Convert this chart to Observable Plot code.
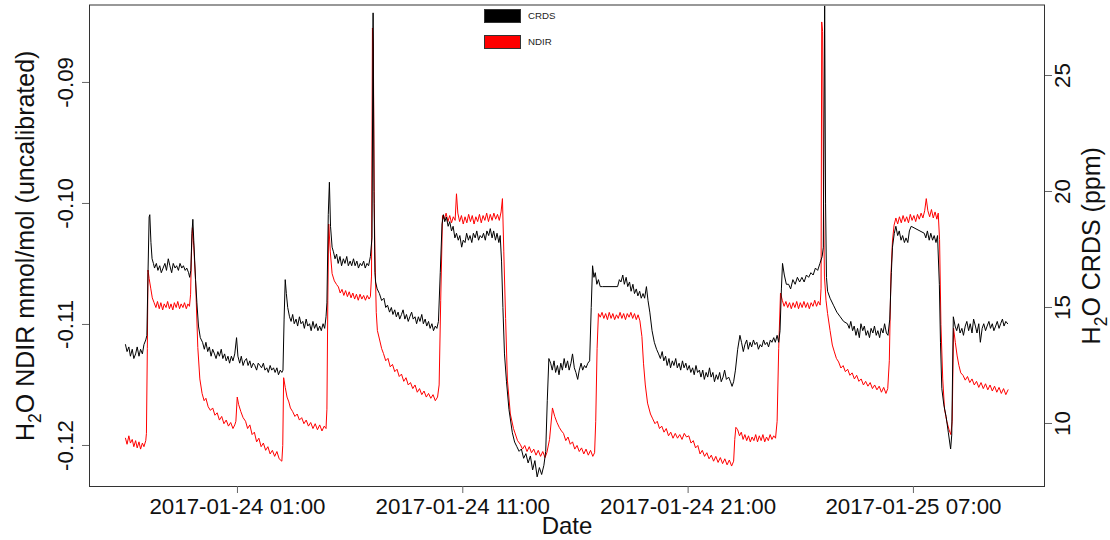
<!DOCTYPE html>
<html>
<head>
<meta charset="utf-8">
<script src="https://cdn.jsdelivr.net/npm/d3@7"></script>
<script src="https://cdn.jsdelivr.net/npm/@observablehq/plot@0.6"></script>
<style>
html,body{margin:0;padding:0;background:#fff;}
#chart{width:1110px;height:540px;}
</style>
</head>
<body>
<div id="chart"></div>
<script>
// ---------------- data (hours since 2017-01-24 00:00 UTC, value) ----------------
const baseLabel = "2017-01-24 00:00";

// CRDS H2O (ppm), right axis
const crds = [
[-3.97,13.4],[-3.9,13.1],[-3.82,13.3],[-3.75,12.9],[-3.67,13.2],[-3.6,12.8],[-3.52,13.0],[-3.45,13.3],[-3.37,12.9],[-3.3,13.2],[-3.22,13.0],[-3.15,13.4],[-3.07,13.6],
[-3.02,13.8],[-2.97,16.5],[-2.92,18.9],[-2.89,19.0],[-2.84,17.8],[-2.79,17.1],[-2.73,16.9],
[-2.68,16.7],[-2.6,16.9],[-2.53,16.6],[-2.45,16.8],[-2.38,16.5],[-2.3,16.7],[-2.22,16.9],[-2.15,16.6],[-2.07,17.1],[-2.0,16.8],[-1.92,16.5],[-1.85,16.9],[-1.77,16.7],[-1.7,16.8],[-1.62,16.6],[-1.55,16.9],[-1.47,16.7],[-1.4,16.8],[-1.32,16.6],[-1.25,16.7],[-1.17,16.5],[-1.12,16.3],
[-1.07,16.6],[-1.02,18.2],[-0.98,18.8],[-0.94,17.9],[-0.86,16.2],[-0.8,15.2],[-0.73,14.2],[-0.65,13.7],[-0.55,13.5],
[-0.47,13.2],[-0.4,13.5],[-0.32,13.1],[-0.25,13.3],[-0.17,12.9],[-0.1,13.2],[-0.02,13.0],[0.05,12.8],[0.13,13.1],[0.2,12.9],[0.28,13.2],[0.35,12.8],[0.43,13.0],[0.5,12.7],[0.58,12.9],[0.65,12.6],[0.73,12.9],[0.8,12.7],[0.88,13.0],[0.96,13.7],[1.02,12.9],[1.1,12.6],[1.17,12.9],[1.25,12.5],[1.32,12.7],[1.4,12.8],[1.47,12.5],[1.55,12.7],[1.62,12.4],[1.7,12.6],[1.77,12.5],[1.85,12.3],[1.92,12.6],[2.0,12.5],[2.07,12.4],[2.15,12.6],[2.22,12.3],[2.3,12.4],[2.37,12.2],[2.45,12.5],[2.52,12.3],[2.6,12.4],[2.67,12.2],[2.75,12.4],[2.82,12.1],[2.9,12.3],[2.97,12.2],
[3.02,12.3],[3.07,14.5],[3.12,16.2],[3.17,15.6],[3.23,15.0],[3.31,14.6],
[3.38,14.4],[3.45,14.7],[3.52,14.3],[3.6,14.5],[3.67,14.2],[3.75,14.6],[3.82,14.3],[3.9,14.4],[3.97,14.1],[4.05,14.5],[4.12,14.2],[4.2,14.3],[4.27,14.0],[4.35,14.4],[4.42,14.1],[4.5,14.3],[4.57,14.0],[4.65,14.2],[4.72,14.0],[4.8,14.3],[4.87,14.1],[4.93,14.6],
[4.97,15.2],[5.03,19.0],[5.08,20.4],[5.13,18.5],[5.2,17.6],[5.26,17.4],
[5.33,17.1],[5.4,17.3],[5.47,16.9],[5.55,17.2],[5.62,16.8],[5.7,17.1],[5.77,16.9],[5.85,17.2],[5.92,16.8],[6.0,17.0],[6.07,16.8],[6.15,17.1],[6.22,16.8],[6.3,17.0],[6.37,16.7],[6.45,16.9],[6.52,16.8],[6.6,17.0],[6.67,16.7],[6.75,16.9],[6.82,16.8],[6.9,17.2],
[6.97,18.0],[7.02,27.7],[7.06,20.0],[7.1,16.5],[7.13,16.1],[7.2,15.8],[7.3,15.6],[7.4,15.3],[7.5,15.4],[7.58,15.0],[7.66,15.1],
[7.75,14.8],[7.83,15.0],[7.9,14.7],[7.98,14.9],[8.05,14.6],[8.13,14.8],[8.2,14.5],[8.28,14.7],[8.35,14.9],[8.43,14.5],[8.5,14.7],[8.58,14.4],[8.65,14.6],[8.73,14.8],[8.8,14.5],[8.88,14.6],[8.95,14.3],[9.03,14.6],[9.1,14.4],[9.18,14.7],[9.25,14.3],[9.33,14.5],[9.4,14.2],[9.48,14.4],[9.55,14.1],[9.63,14.3],[9.7,14.0],[9.78,14.2],[9.85,14.1],
[9.92,14.4],[10.0,16.5],[10.08,18.6],[10.14,19.0],[10.2,18.7],[10.27,18.9],
[10.35,18.5],[10.42,18.7],[10.5,18.3],[10.57,18.5],[10.65,18.0],[10.72,18.2],[10.8,17.9],[10.87,18.1],[10.95,17.6],[11.02,17.9],[11.1,17.8],[11.17,18.2],[11.25,17.9],[11.32,18.1],[11.4,17.8],[11.47,18.2],[11.55,18.0],[11.62,18.3],[11.7,17.9],[11.77,18.1],[11.85,18.0],[11.92,18.2],[12.0,17.9],[12.07,18.3],[12.15,18.1],[12.22,18.4],[12.3,18.0],[12.37,18.3],[12.45,17.9],[12.52,18.2],[12.6,17.8],[12.66,18.1],
[12.72,17.0],[12.78,15.0],[12.85,13.0],[12.94,11.8],[13.05,10.6],[13.2,9.6],[13.3,9.2],[13.4,9.0],[13.5,8.8],[13.6,8.9],[13.7,8.5],[13.8,8.7],[13.9,8.3],[14.0,8.6],[14.1,8.0],[14.2,8.4],[14.3,7.7],[14.4,8.1],[14.5,7.8],[14.6,8.2],
[14.68,8.8],[14.75,11.0],[14.82,12.8],
[14.9,12.6],[14.97,12.3],[15.05,12.7],[15.12,12.2],[15.2,12.5],[15.27,12.1],[15.35,12.6],[15.42,12.3],[15.5,12.8],[15.57,12.4],[15.65,12.7],[15.72,12.3],[15.8,12.6],[15.87,13.0],[15.95,12.4],[16.02,12.2],[16.1,11.9],[16.17,12.3],[16.25,12.6],[16.32,12.3],[16.4,12.5],[16.47,12.4],[16.55,12.6],
[16.63,12.7],[16.7,15.0],[16.76,16.8],
[16.82,16.3],[16.88,16.5],[16.95,16.0],[17.02,16.2],[17.1,15.9],[17.2,15.9],[17.87,15.9],[17.95,16.2],[18.02,16.1],[18.1,16.4],[18.17,16.0],[18.25,16.3],[18.32,15.9],[18.4,16.1],[18.47,15.7],[18.55,16.0],[18.62,15.6],[18.7,15.8],[18.77,15.5],[18.85,15.7],[18.92,15.4],[19.0,15.6],[19.07,15.4],[19.15,15.9],[19.22,15.3],
[19.3,14.8],[19.4,14.0],[19.5,13.5],[19.6,13.2],[19.69,13.0],
[19.77,12.8],[19.85,13.1],[19.92,12.7],[20.0,12.9],[20.07,12.5],[20.15,12.8],[20.22,12.4],[20.3,12.7],[20.37,12.5],[20.45,12.8],[20.52,12.4],[20.6,12.6],[20.67,12.3],[20.75,12.7],[20.82,12.4],[20.9,12.6],[20.97,12.3],[21.05,12.5],[21.12,12.2],[21.2,12.4],[21.27,12.1],[21.35,12.5],[21.42,12.2],[21.5,12.3],[21.57,12.0],[21.65,12.3],[21.72,11.9],[21.8,12.2],[21.87,12.0],[21.95,12.4],[22.02,12.0],[22.1,12.2],[22.17,11.8],[22.25,12.1],[22.32,11.9],[22.4,12.2],[22.47,11.8],[22.55,12.0],[22.62,12.3],[22.7,11.9],[22.8,12.0],[22.88,11.8],[22.95,11.6],[23.02,11.8],
[23.1,12.3],[23.2,13.2],[23.3,13.8],
[23.37,13.5],[23.45,13.1],[23.52,13.4],[23.6,13.6],[23.67,13.2],[23.75,13.5],[23.82,13.3],[23.9,13.6],[23.97,13.4],[24.05,13.5],[24.12,13.2],[24.2,13.4],[24.27,13.3],[24.35,13.6],[24.42,13.4],[24.5,13.5],[24.57,13.3],[24.65,13.6],[24.72,13.5],[24.8,13.7],[24.87,13.5],[24.95,13.8],[25.02,13.5],
[25.08,14.0],[25.14,15.8],[25.19,16.9],[25.27,16.4],[25.36,16.0],[25.46,16.0],
[25.55,15.8],[25.65,16.2],[25.75,16.0],[25.85,16.3],[25.95,16.1],[26.05,16.3],[26.15,16.1],[26.25,16.4],[26.35,16.3],[26.45,16.5],[26.55,16.4],[26.65,16.7],[26.75,16.6],[26.85,16.9],[26.95,17.2],
[27.0,17.6],[27.06,28.0],[27.1,19.5],[27.14,16.3],[27.19,15.7],[27.3,15.4],[27.45,15.1],[27.6,14.8],[27.75,14.6],[27.9,14.4],[28.07,14.3],
[28.15,14.1],[28.22,14.4],[28.3,14.0],[28.37,14.2],[28.45,13.8],[28.52,14.1],[28.6,13.7],[28.67,14.3],[28.75,14.0],[28.82,14.2],[28.9,13.8],[28.97,14.0],[29.05,13.7],[29.12,14.1],[29.2,13.9],[29.27,14.2],[29.35,13.8],[29.42,14.0],[29.5,13.7],[29.57,14.1],[29.65,13.9],[29.72,14.3],[29.8,13.9],[29.87,13.8],
[29.95,14.5],[30.02,16.5],[30.07,17.6],
[30.15,18.2],[30.22,18.5],[30.3,18.1],[30.37,18.3],[30.45,17.9],[30.52,18.1],[30.6,17.8],[30.67,18.0],[30.75,17.8],[30.82,18.3],[30.9,18.5],[31.48,18.2],[31.55,18.0],[31.62,18.3],[31.7,17.9],[31.77,18.2],[31.85,17.9],[31.92,18.1],[32.0,17.8],[32.07,18.1],
[32.15,16.0],[32.2,13.5],[32.26,11.5],[32.35,10.8],[32.45,10.3],[32.55,9.6],[32.65,8.9],[32.7,9.5],
[32.77,14.6],
[32.85,14.2],[32.92,14.0],[33.0,14.3],[33.07,13.9],[33.15,14.1],[33.22,13.8],[33.3,14.2],[33.37,14.4],[33.45,14.0],[33.52,14.3],[33.6,13.9],[33.67,14.5],[33.75,14.2],[33.82,13.9],[33.9,14.3],[33.97,13.5],[34.05,14.1],[34.12,14.3],[34.2,14.0],[34.27,14.2],[34.35,14.4],[34.42,14.1],[34.5,14.3],[34.57,14.0],[34.65,14.2],[34.72,14.4],[34.8,14.1],[34.87,14.3],[34.95,14.5],[35.02,14.2],[35.1,14.4],[35.18,14.3]
];

// NDIR H2O (mmol/mol, uncalibrated), left axis
const ndir = [
[-3.97,-0.1194],[-3.9,-0.1199],[-3.82,-0.1192],[-3.75,-0.1198],[-3.67,-0.1195],[-3.6,-0.1201],[-3.52,-0.1196],[-3.45,-0.1202],[-3.37,-0.1197],[-3.3,-0.1203],[-3.22,-0.1198],[-3.15,-0.1201],[-3.07,-0.1196],
[-3.04,-0.1190],[-3.0,-0.1120],[-2.97,-0.1055],[-2.92,-0.1062],[-2.85,-0.1070],[-2.78,-0.1078],[-2.7,-0.1082],
[-2.62,-0.1086],[-2.55,-0.1081],[-2.47,-0.1087],[-2.4,-0.1082],[-2.32,-0.1088],[-2.25,-0.1083],[-2.17,-0.1086],[-2.1,-0.1081],[-2.02,-0.1087],[-1.95,-0.1083],[-1.87,-0.1088],[-1.8,-0.1082],[-1.72,-0.1086],[-1.65,-0.1081],[-1.57,-0.1087],[-1.5,-0.1083],[-1.42,-0.1086],[-1.35,-0.1082],[-1.27,-0.1087],[-1.2,-0.1083],[-1.13,-0.1085],
[-1.08,-0.1075],[-1.04,-0.1040],[-1.0,-0.1020],[-0.94,-0.1035],[-0.86,-0.1064],[-0.76,-0.1119],[-0.67,-0.1145],[-0.57,-0.1157],[-0.48,-0.1163],[-0.4,-0.1161],[-0.3,-0.1168],[-0.2,-0.1171],[-0.1,-0.1169],[0.0,-0.1175],[0.1,-0.1173],[0.2,-0.1179],[0.3,-0.1176],[0.4,-0.1182],[0.5,-0.1179],[0.6,-0.1184],[0.7,-0.1181],[0.8,-0.1186],[0.88,-0.1183],
[0.93,-0.1180],[0.99,-0.1160],[1.05,-0.1166],[1.15,-0.1172],[1.25,-0.1177],[1.36,-0.1180],[1.45,-0.1186],[1.55,-0.1183],[1.65,-0.1191],[1.75,-0.1189],[1.85,-0.1197],[1.95,-0.1194],[2.05,-0.1201],[2.15,-0.1198],[2.25,-0.1204],[2.35,-0.1201],[2.45,-0.1207],[2.55,-0.1204],[2.65,-0.1209],[2.75,-0.1205],[2.85,-0.1211],[2.97,-0.1213],
[3.01,-0.1200],[3.05,-0.1144],[3.12,-0.1152],[3.2,-0.1160],[3.28,-0.1164],[3.35,-0.1169],[3.45,-0.1172],[3.55,-0.1176],[3.65,-0.1174],[3.75,-0.1179],[3.85,-0.1177],[3.95,-0.1182],[4.05,-0.1179],[4.15,-0.1184],[4.25,-0.1181],[4.35,-0.1186],[4.45,-0.1182],[4.55,-0.1187],[4.65,-0.1183],[4.75,-0.1188],[4.85,-0.1184],[4.93,-0.1186],
[4.97,-0.1170],[5.01,-0.1080],[5.05,-0.1017],[5.12,-0.1040],[5.2,-0.1058],[5.3,-0.1064],[5.4,-0.1067],[5.48,-0.1069],[5.56,-0.1074],[5.64,-0.1071],[5.72,-0.1076],[5.8,-0.1072],[5.88,-0.1077],[5.96,-0.1073],[6.04,-0.1078],[6.12,-0.1074],[6.2,-0.1079],[6.28,-0.1075],[6.36,-0.1080],[6.44,-0.1075],[6.52,-0.1079],[6.6,-0.1076],[6.68,-0.1080],[6.76,-0.1076],[6.84,-0.1079],[6.9,-0.1077],
[6.95,-0.1060],[6.99,-0.0855],[7.03,-0.0870],[7.07,-0.1000],[7.1,-0.1040],[7.16,-0.1090],[7.21,-0.1105],[7.3,-0.1112],[7.4,-0.1120],[7.48,-0.1124],[7.58,-0.1130],[7.68,-0.1128],[7.78,-0.1135],[7.88,-0.1133],[7.98,-0.1139],[8.08,-0.1137],[8.18,-0.1143],[8.28,-0.1141],[8.38,-0.1147],[8.48,-0.1144],[8.58,-0.1150],[8.68,-0.1148],[8.78,-0.1153],[8.88,-0.1150],[8.98,-0.1156],[9.08,-0.1153],[9.18,-0.1158],[9.28,-0.1155],[9.38,-0.1160],[9.48,-0.1157],[9.58,-0.1161],[9.68,-0.1158],[9.78,-0.1163],[9.88,-0.1160],
[9.95,-0.1150],[10.02,-0.1080],[10.1,-0.1010],
[10.18,-0.1013],[10.26,-0.1008],[10.34,-0.1015],[10.42,-0.1010],[10.5,-0.1016],[10.58,-0.1011],[10.66,-0.1014],[10.72,-0.0992],[10.78,-0.1008],[10.86,-0.1015],[10.94,-0.1010],[11.02,-0.1017],[11.1,-0.1011],[11.18,-0.1016],[11.26,-0.1009],[11.34,-0.1015],[11.42,-0.1010],[11.5,-0.1017],[11.58,-0.1011],[11.66,-0.1015],[11.74,-0.1009],[11.82,-0.1016],[11.9,-0.1010],[11.98,-0.1014],[12.06,-0.1008],[12.14,-0.1015],[12.22,-0.1009],[12.3,-0.1014],[12.38,-0.1008],[12.46,-0.1013],[12.54,-0.1009],[12.62,-0.1014],[12.7,-0.1007],[12.76,-0.0996],
[12.82,-0.1040],[12.9,-0.1095],[12.98,-0.1146],[13.11,-0.1174],[13.25,-0.1186],[13.43,-0.1196],[13.55,-0.1199],[13.65,-0.1203],[13.75,-0.1200],[13.85,-0.1205],[13.95,-0.1201],[14.05,-0.1206],[14.15,-0.1203],[14.25,-0.1208],[14.35,-0.1204],[14.45,-0.1209],[14.55,-0.1205],[14.65,-0.1210],[14.73,-0.1206],
[14.85,-0.1195],[14.98,-0.1169],[15.08,-0.1176],[15.18,-0.1181],[15.28,-0.1185],[15.38,-0.1188],[15.47,-0.1190],[15.57,-0.1196],[15.67,-0.1193],[15.77,-0.1199],[15.87,-0.1197],[15.97,-0.1203],[16.07,-0.1200],[16.17,-0.1205],[16.27,-0.1202],[16.37,-0.1207],[16.47,-0.1203],[16.57,-0.1208],[16.67,-0.1204],[16.77,-0.1209],[16.85,-0.1206],
[16.9,-0.1180],[16.96,-0.1120],[17.02,-0.1091],
[17.1,-0.1094],[17.18,-0.1090],[17.26,-0.1095],[17.34,-0.1091],[17.42,-0.1096],[17.5,-0.1090],[17.58,-0.1095],[17.66,-0.1091],[17.74,-0.1096],[17.82,-0.1092],[17.9,-0.1095],[17.98,-0.1090],[18.06,-0.1095],[18.14,-0.1091],[18.22,-0.1096],[18.3,-0.1091],[18.38,-0.1094],[18.46,-0.1090],[18.54,-0.1095],[18.62,-0.1091],[18.7,-0.1096],[18.78,-0.1092],[18.86,-0.1097],
[18.95,-0.1110],[19.02,-0.1132],[19.1,-0.1150],[19.2,-0.1165],[19.33,-0.1174],[19.43,-0.1178],[19.53,-0.1182],[19.63,-0.1180],[19.73,-0.1186],[19.83,-0.1184],[19.93,-0.1189],[20.03,-0.1186],[20.13,-0.1192],[20.23,-0.1189],[20.33,-0.1194],[20.43,-0.1190],[20.53,-0.1194],[20.63,-0.1191],[20.73,-0.1195],[20.83,-0.1190],[20.93,-0.1193],[21.03,-0.1192],[21.13,-0.1198],[21.23,-0.1196],[21.33,-0.1202],[21.43,-0.1200],[21.53,-0.1207],[21.63,-0.1204],[21.73,-0.1209],[21.83,-0.1206],[21.93,-0.1211],[22.03,-0.1208],[22.13,-0.1213],[22.23,-0.1209],[22.33,-0.1214],[22.43,-0.1210],[22.53,-0.1215],[22.63,-0.1211],[22.73,-0.1216],[22.83,-0.1212],[22.93,-0.1217],[23.02,-0.1213],
[23.07,-0.1195],[23.12,-0.1185],
[23.2,-0.1187],[23.28,-0.1192],[23.36,-0.1189],[23.44,-0.1195],[23.52,-0.1191],[23.6,-0.1196],[23.68,-0.1192],[23.76,-0.1197],[23.84,-0.1193],[23.92,-0.1196],[24.0,-0.1191],[24.08,-0.1197],[24.16,-0.1192],[24.24,-0.1196],[24.32,-0.1191],[24.4,-0.1197],[24.48,-0.1193],[24.56,-0.1196],[24.64,-0.1191],[24.72,-0.1195],[24.8,-0.1192],[24.88,-0.1194],
[24.95,-0.1180],[25.02,-0.1120],[25.1,-0.1074],
[25.18,-0.1080],[25.26,-0.1085],[25.34,-0.1081],[25.42,-0.1086],[25.5,-0.1082],[25.58,-0.1087],[25.66,-0.1082],[25.74,-0.1086],[25.82,-0.1081],[25.9,-0.1087],[25.98,-0.1082],[26.06,-0.1086],[26.14,-0.1081],[26.22,-0.1086],[26.3,-0.1082],[26.38,-0.1087],[26.46,-0.1082],[26.54,-0.1085],[26.62,-0.1080],[26.7,-0.1085],[26.78,-0.1081],[26.86,-0.1084],
[26.9,-0.1070],[26.93,-0.0850],[26.97,-0.0858],[27.01,-0.1000],[27.05,-0.1060],[27.12,-0.1080],[27.19,-0.1091],[27.3,-0.1105],[27.4,-0.1117],[27.48,-0.1122],[27.58,-0.1128],[27.68,-0.1131],[27.78,-0.1136],[27.88,-0.1134],[27.98,-0.1139],[28.08,-0.1137],[28.18,-0.1142],[28.28,-0.1140],[28.38,-0.1145],[28.48,-0.1142],[28.58,-0.1147],[28.68,-0.1145],[28.78,-0.1150],[28.88,-0.1147],[28.98,-0.1151],[29.08,-0.1148],[29.18,-0.1153],[29.28,-0.1150],[29.38,-0.1154],[29.48,-0.1151],[29.58,-0.1156],[29.68,-0.1152],[29.78,-0.1157],[29.86,-0.1153],
[29.93,-0.1130],[30.0,-0.1060],[30.07,-0.1031],[30.14,-0.1018],
[30.22,-0.1012],[30.3,-0.1017],[30.38,-0.1011],[30.46,-0.1016],[30.54,-0.1010],[30.62,-0.1015],[30.7,-0.1011],[30.78,-0.1016],[30.86,-0.1009],[30.94,-0.1014],[31.02,-0.1010],[31.1,-0.1015],[31.18,-0.1009],[31.26,-0.1013],[31.34,-0.1008],[31.42,-0.1012],[31.5,-0.1006],[31.57,-0.0996],[31.64,-0.1006],[31.72,-0.1011],[31.8,-0.1005],[31.88,-0.1012],[31.96,-0.1007],[32.04,-0.1013],[32.1,-0.1008],
[32.16,-0.1030],[32.22,-0.1100],[32.3,-0.1145],[32.38,-0.1170],[32.48,-0.1180],[32.58,-0.1187],[32.66,-0.1191],[32.72,-0.1180],[32.78,-0.1103],
[32.86,-0.1115],[32.94,-0.1126],[33.02,-0.1134],[33.1,-0.1140],[33.2,-0.1142],[33.3,-0.1146],[33.4,-0.1143],[33.5,-0.1148],[33.6,-0.1145],[33.7,-0.1150],[33.8,-0.1147],[33.9,-0.1152],[34.0,-0.1148],[34.1,-0.1153],[34.2,-0.1149],[34.3,-0.1154],[34.4,-0.1150],[34.5,-0.1155],[34.6,-0.1151],[34.7,-0.1156],[34.8,-0.1152],[34.9,-0.1157],[35.0,-0.1153],[35.1,-0.1158],[35.2,-0.1154]
];

const xLimits = ["2017-01-23 18:26", "2017-01-25 12:49"];
const xTickLabels = ["2017-01-24 01:00", "2017-01-24 11:00", "2017-01-24 21:00", "2017-01-25 07:00"];
const ndirLimits = [-0.12339, -0.08360];
const crdsLimits = [7.284, 28.039];
const ndirTicks = [-0.12, -0.11, -0.10, -0.09];
const crdsTicks = [10, 15, 20, 25];
const seriesNames = ["CRDS", "NDIR"];
const seriesColors = ["black", "red"];
const xTitle = "Date";
const ndirTitle = "H2O NDIR mmol/mol (uncalibrated)";
const crdsTitle = "H2O CRDS (ppm)";

// ---------------- chart ----------------
const FONT = "'Liberation Sans', Arial, Helvetica, sans-serif";
const TICK_FS = 22.3;
const TITLE_FS = 25;
const parseT = d3.utcParse("%Y-%m-%d %H:%M");
const base = parseT(baseLabel);
const toDate = h => new Date(+base + h * 3600000);
const toLeft = p => ndirLimits[0] + (p - crdsLimits[0]) * (ndirLimits[1] - ndirLimits[0]) / (crdsLimits[1] - crdsLimits[0]);

const chart = Plot.plot({
  width: 1110,
  height: 540,
  marginLeft: 89,
  marginRight: 66,
  marginTop: 4.5,
  marginBottom: 54,
  x: {type: "utc", domain: xLimits.map(parseT)},
  y: {domain: ndirLimits},
  style: {fontFamily: FONT, background: "white", color: "#111", overflow: "visible"},
  marks: [
    Plot.line(ndir, {x: d => toDate(d[0]), y: d => d[1], stroke: seriesColors[1], strokeWidth: 1, clip: true}),
    Plot.line(crds, {x: d => toDate(d[0]), y: d => toLeft(d[1]), stroke: seriesColors[0], strokeWidth: 1, clip: true}),
    Plot.frame({stroke: "#333"}),
    Plot.axisX(xTickLabels.map(parseT), {tickSize: 7, tickPadding: 5, tickFormat: d3.utcFormat("%Y-%m-%d %H:%M"), fontSize: TICK_FS, label: null, stroke: "#666", fill: "#111"}),
    Plot.axisY(ndirTicks, {anchor: "left", tickSize: 7, tickFormat: () => "", label: null, stroke: "#666"}),
    Plot.text(ndirTicks, {y: d => d, frameAnchor: "left", dx: -17, rotate: -90, textAnchor: "middle", lineAnchor: "bottom", text: d => d.toFixed(2), fontSize: TICK_FS, fill: "#111"}),
    Plot.axisY(crdsTicks.map(toLeft), {anchor: "right", tickSize: 7, tickFormat: () => "", label: null, stroke: "#666"}),
    Plot.text(crdsTicks, {y: d => toLeft(d), frameAnchor: "right", dx: 9.5, rotate: -90, textAnchor: "middle", lineAnchor: "top", text: d => String(d), fontSize: TICK_FS, fill: "#111"}),
    Plot.text([xTitle], {frameAnchor: "bottom", dy: 47, lineAnchor: "bottom", text: d => d, fontSize: 24, fill: "#111"}),
    Plot.text([ndirTitle], {frameAnchor: "left", dx: -56, rotate: -90, textAnchor: "middle", lineAnchor: "bottom", text: d => d, fontSize: TITLE_FS, fill: "#111"}),
    Plot.text([crdsTitle], {frameAnchor: "right", dx: 38, rotate: -90, textAnchor: "middle", lineAnchor: "top", text: d => d, fontSize: TITLE_FS, fill: "#111"})
  ]
});

document.getElementById("chart").appendChild(chart);
const svg = d3.select(chart);

// subscript "2" in H2O titles
function subscriptTitle(full, size) {
  svg.selectAll("text").filter(function() { return this.textContent === full; }).each(function() {
    const t = d3.select(this);
    t.text(null);
    t.append("tspan").text(full.slice(0, 1));
    t.append("tspan").attr("dy", size * 0.28).attr("font-size", size * 0.7).text(full.slice(1, 2));
    t.append("tspan").attr("dy", -size * 0.28).text(full.slice(2));
  });
}
subscriptTitle(ndirTitle, TITLE_FS);
subscriptTitle(crdsTitle, TITLE_FS);

// legend (R-style filled boxes)
const lg = svg.append("g").attr("font-family", FONT).attr("text-anchor", "start");
seriesNames.forEach((name, i) => {
  lg.append("rect").attr("x", 484.5).attr("y", 9.5 + i * 26).attr("width", 36).attr("height", 13)
    .attr("fill", seriesColors[i]).attr("stroke", "#333").attr("stroke-width", 1);
  lg.append("text").attr("x", 528).attr("y", 16 + i * 26).attr("dy", "0.35em")
    .attr("text-anchor", "start").attr("font-size", 9.7).attr("fill", "#222").text(name);
});
</script>
</body>
</html>
